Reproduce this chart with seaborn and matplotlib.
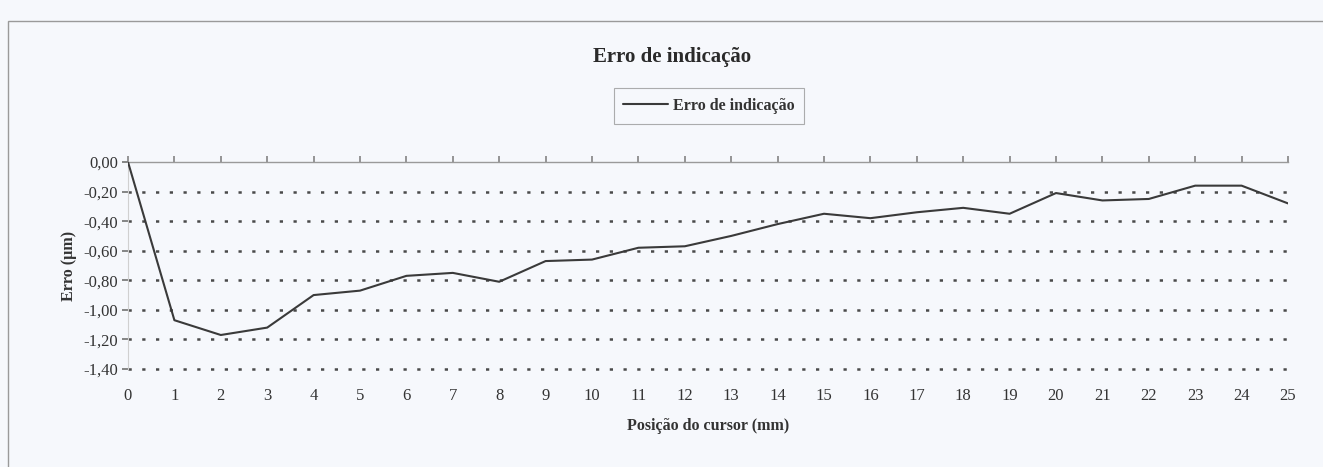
import matplotlib
matplotlib.use("Agg")
import matplotlib.pyplot as plt
import seaborn as sns
import pandas as pd
from matplotlib.patches import Rectangle

positions = list(range(26))
erro = [0.00, -1.07, -1.17, -1.12, -0.90, -0.87, -0.77, -0.75, -0.81, -0.67,
        -0.66, -0.58, -0.57, -0.50, -0.42, -0.35, -0.38, -0.34, -0.31, -0.35,
        -0.21, -0.26, -0.25, -0.16, -0.16, -0.28]
y_ticks = [0.0, -0.2, -0.4, -0.6, -0.8, -1.0, -1.2, -1.4]
y_tick_labels = ["0,00", "-0,20", "-0,40", "-0,60", "-0,80", "-1,00", "-1,20", "-1,40"]
title = "Erro de indicação"
series_name = "Erro de indicação"
xlabel = "Posição do cursor (mm)"
ylabel = "Erro (µm)"

sns.set_theme(style="white")
plt.rcParams['font.family'] = ['Liberation Serif', 'DejaVu Serif']

bg = "#f6f8fc"
fig = plt.figure(figsize=(13.23, 4.67), dpi=100, facecolor=bg)
ax = fig.add_axes([128/1323, 1-369/467, (1288-128)/1323, (369-162)/467])
ax.set_facecolor(bg)

df = pd.DataFrame({"pos": positions, "erro": erro})
sns.lineplot(data=df, x="pos", y="erro", ax=ax, color="#3a3a3a", lw=1.5,
             label=series_name, zorder=3)

ax.set_xlim(0, 25)
ax.set_ylim(-1.4, 0)
ax.set_yticks(y_ticks)
ax.set_yticklabels(y_tick_labels)
ax.set_xticks(positions)
ax.set_xticklabels([str(p) for p in positions])

for y in y_ticks[1:]:
    ax.axhline(y, color="#4a4a4a", lw=1.8, ls=(0, (1.3, 4.2)), zorder=1,
               clip_on=False)

for s in ["right", "bottom"]:
    ax.spines[s].set_visible(False)
ax.spines["top"].set_color("#9a9a9a")
ax.spines["top"].set_linewidth(1.0)
ax.spines["left"].set_color("#d0d0d0")
ax.spines["left"].set_linewidth(0.8)

ax.xaxis.set_ticks_position("top")
ax.tick_params(axis="x", which="both", top=True, bottom=False, labeltop=False,
               labelbottom=True, direction="out", length=4, color="#888888",
               labelsize=12, pad=10, labelcolor="#333333")
ax.tick_params(axis="y", left=True, direction="out", length=4, color="#777777",
               labelsize=12, pad=3, labelcolor="#333333")

ax.set_xlabel(xlabel, fontsize=11.5, fontweight="bold", color="#333333", labelpad=10)
ax.set_ylabel(ylabel, fontsize=11.5, fontweight="bold", color="#333333", labelpad=5)

fig.text(672/1323, 1-57/467, title, ha="center", va="center", fontsize=15,
         fontweight="bold", color="#2a2a2a")

leg = ax.legend(loc="center", bbox_to_anchor=(709/1323, 1-106/467),
                bbox_transform=fig.transFigure, frameon=True, fancybox=False,
                prop={"family": "Liberation Serif", "weight": "bold", "size": 11.5},
                handlelength=2.8, handletextpad=0.3, borderpad=0.6)
leg.get_frame().set_edgecolor("#999999")
leg.get_frame().set_facecolor(bg)
leg.get_frame().set_linewidth(0.8)
for t in leg.get_texts():
    t.set_color("#333333")

fig.patches.append(Rectangle((8/1323, -0.02), 1.02, 1-21/467+0.02,
                             transform=fig.transFigure, fill=False,
                             edgecolor="#9a9a9a", lw=1.0))

fig.savefig("out.png", dpi=100, facecolor=bg)
